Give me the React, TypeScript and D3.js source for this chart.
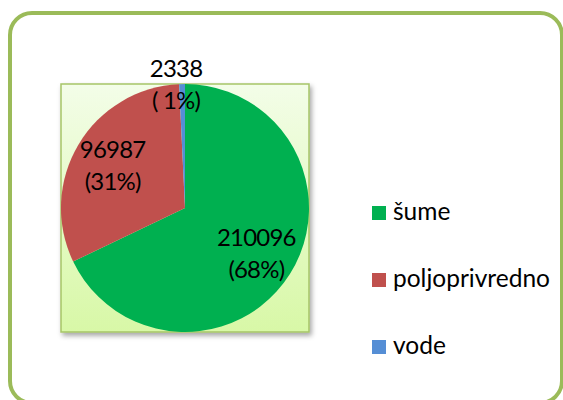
import React from "react";
import * as d3 from "d3";

const categories = ["šume", "poljoprivredno", "vode"];
const values = [210096, 96987, 2338];
const colors = ["#00B050", "#C0504D", "#558ED5"];

const W = 563;
const H = 400;
const FONT = "Lato, 'Open Sans', sans-serif";

export default function App() {
  const plot = { x: 61, y: 84, w: 248, h: 248 };
  const cx = plot.x + plot.w / 2;
  const cy = plot.y + plot.h / 2;
  const r = plot.w / 2;

  const total = d3.sum(values);
  const pie = d3.pie<number>().sort(null).value((d) => d).startAngle(0).endAngle(2 * Math.PI);
  const arcs = pie(values);
  const arcGen = d3.arc<d3.PieArcDatum<number>>().innerRadius(0).outerRadius(r);

  const legendY = d3.scalePoint<string>().domain(categories).range([213, 347]);

  return (
    <svg
      width={W}
      height={H}
      style={{ position: "fixed", left: 0, top: 0, background: "#fff" }}
      fontFamily={FONT}
    >
      <defs>
        <linearGradient id="plotBg" x1="0" y1="0" x2="0" y2="1">
          <stop offset="0" stopColor="#F3FDE8" />
          <stop offset="1" stopColor="#D8F8A7" />
        </linearGradient>
        <filter id="shadow" x="-10%" y="-10%" width="130%" height="130%">
          <feDropShadow dx="2" dy="3" stdDeviation="2.5" floodColor="#000" floodOpacity="0.35" />
        </filter>
      </defs>
      <rect x={10} y={13} width={552} height={390} rx={22} ry={22} fill="#fff" stroke="#9BBB59" strokeWidth={4} />
      <rect
        x={plot.x}
        y={plot.y}
        width={plot.w}
        height={plot.h}
        fill="url(#plotBg)"
        stroke="#A6C567"
        strokeWidth={1.5}
        filter="url(#shadow)"
      />
      <g transform={`translate(${cx},${cy})`}>
        {arcs.map((a, i) => (
          <path key={categories[i]} d={arcGen(a) || ""} fill={colors[i]} />
        ))}
      </g>
      {arcs.map((a, i) => {
        const frac = values[i] / total;
        const mid = (a.startAngle + a.endAngle) / 2;
        const small = frac < 0.05;
        const k = small ? 1.0 : 0.68;
        const lx = cx + Math.sin(mid) * r * k - (small ? 6 : 0);
        const ly = cy - Math.cos(mid) * r * k;
        const pct = String(Math.round(frac * 100)).padStart(2, " ");
        return (
          <text
            key={"lbl" + i}
            x={lx}
            y={ly - 7}
            textAnchor="middle"
            fontSize={24}
            letterSpacing={-0.8}
            fill="#000"
            style={{ whiteSpace: "pre" }}
          >
            <tspan x={lx} y={ly - 7}>{String(values[i])}</tspan>
            <tspan x={lx} y={ly + 25}>{`(${pct}%)`}</tspan>
          </text>
        );
      })}
      {categories.map((c, i) => {
        const y = legendY(c) as number;
        return (
          <g key={"leg" + c}>
            <rect x={372} y={y - 7} width={14} height={14} fill={colors[i]} />
            <text x={393} y={y + 7} fontSize={24.5} fill="#000">
              {c}
            </text>
          </g>
        );
      })}
    </svg>
  );
}
